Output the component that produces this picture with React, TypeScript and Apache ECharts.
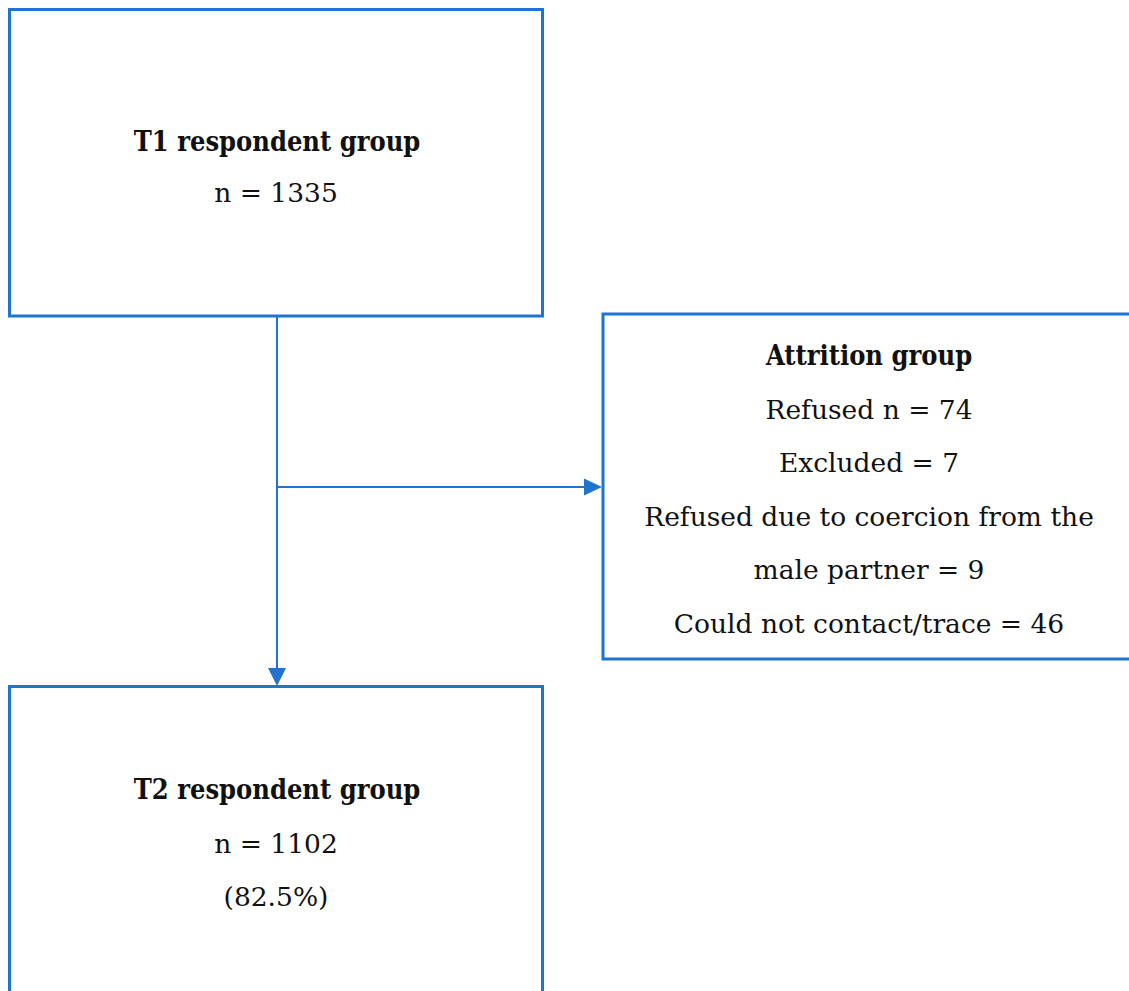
import React, { useEffect, useRef } from "react";
import * as echarts from "echarts";

// Flowchart content
const boxTitles = ["T1 respondent group", "Attrition group", "T2 respondent group"];
const t1Lines = ["n = 1335"];
const attritionLines = [
  "Refused n = 74",
  "Excluded = 7",
  "Refused due to coercion from the",
  "male partner = 9",
  "Could not contact/trace = 46",
];
const t2Lines = ["n = 1102", "(82.5%)"];

const BLUE = "#1F74D0";
const FONT = "'DejaVu Serif', 'Liberation Serif', serif";
const TITLE_FONT = "'DejaVu Serif Condensed', 'DejaVu Serif', serif";
const TEXT_COLOR = "#111111";

export default function App() {
  const ref = useRef<HTMLDivElement>(null);

  useEffect(() => {
    if (!ref.current) return;
    const chart = echarts.init(ref.current, undefined, { renderer: "svg" });

    const title = (text: string, x: number, y: number) => ({
      type: "text",
      x,
      y,
      style: {
        text,
        fill: TEXT_COLOR,
        font: `bold 27px ${TITLE_FONT}`,
        textAlign: "center",
        textVerticalAlign: "middle",
      },
    });
    const body = (text: string, x: number, y: number) => ({
      type: "text",
      x,
      y,
      style: {
        text,
        fill: TEXT_COLOR,
        font: `normal 26.5px ${FONT}`,
        textAlign: "center",
        textVerticalAlign: "middle",
      },
    });

    const boxStyle = { fill: "#ffffff", stroke: BLUE, lineWidth: 3 };
    const lineStyle = { stroke: BLUE, lineWidth: 2 };

    const elements: any[] = [
      { type: "rect", shape: { x: 9.5, y: 9.5, width: 533, height: 306.5 }, style: boxStyle },
      { type: "rect", shape: { x: 603, y: 314, width: 560, height: 345 }, style: boxStyle },
      { type: "rect", shape: { x: 9.5, y: 686.5, width: 533, height: 400 }, style: boxStyle },
      // vertical connector
      { type: "line", shape: { x1: 277, y1: 317, x2: 277, y2: 670 }, style: lineStyle },
      { type: "polygon", shape: { points: [[268, 668], [286, 668], [277, 686]] }, style: { fill: BLUE } },
      // horizontal connector
      { type: "line", shape: { x1: 277, y1: 487, x2: 586, y2: 487 }, style: lineStyle },
      { type: "polygon", shape: { points: [[584, 478.5], [584, 495.5], [602, 487]] }, style: { fill: BLUE } },
      title(boxTitles[0], 277, 141),
      title(boxTitles[1], 869, 355),
      title(boxTitles[2], 277, 789),
    ];
    t1Lines.forEach((t, i) => elements.push(body(t, 276, 192 + i * 53)));
    attritionLines.forEach((t, i) => elements.push(body(t, 869, 409 + i * 53.5)));
    t2Lines.forEach((t, i) => elements.push(body(t, 276, 843 + i * 53)));

    chart.setOption({
      animation: false,
      backgroundColor: "#ffffff",
      graphic: { elements },
    });

    return () => chart.dispose();
  }, []);

  return (
    <div
      ref={ref}
      style={{ position: "absolute", left: 0, top: 0, width: 1129, height: 991 }}
    />
  );
}
